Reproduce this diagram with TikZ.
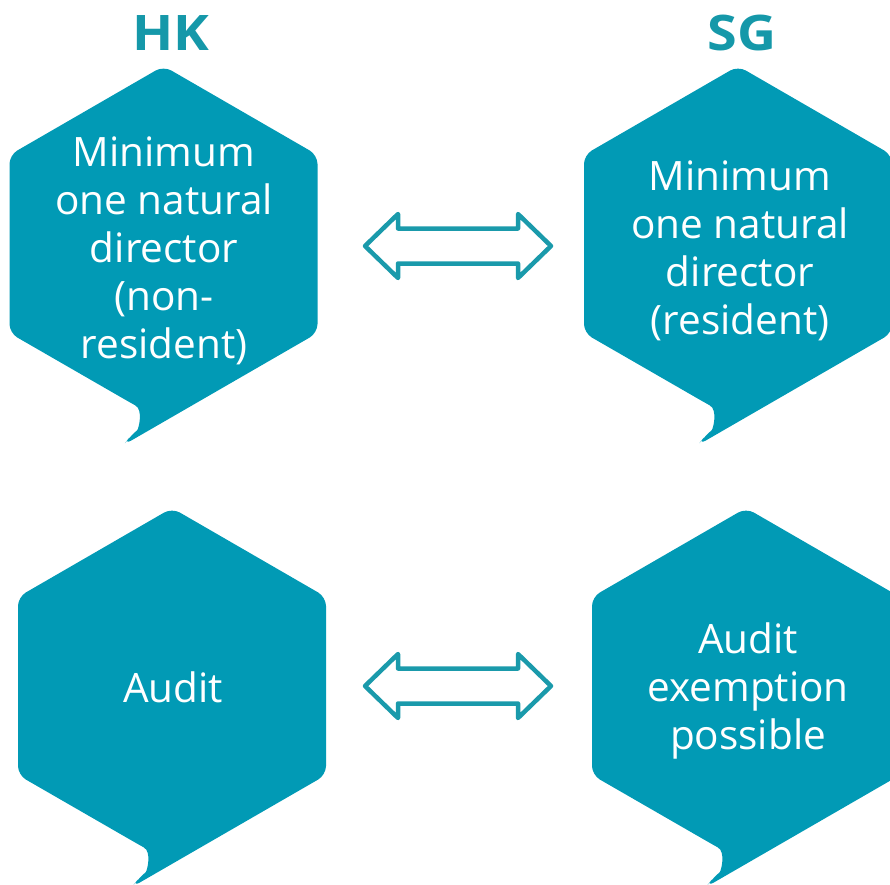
\documentclass[tikz,border=0pt]{standalone}
\usepackage{fontspec}
\setmainfont{Open Sans}
\newfontfamily\headfont[FakeStretch=1.1]{Open Sans}
\usetikzlibrary{calc}
\definecolor{hexfill}{HTML}{019AB5}
\definecolor{headc}{HTML}{1598A9}
\definecolor{arrc}{HTML}{1A9AAB}
\tikzset{
  bubble/.style={fill=hexfill, rounded corners=9pt},
  bubtext/.style={text=white, align=center, inner sep=0pt, font=\fontsize{40.5}{48}\selectfont},
  headtext/.style={text=headc, inner sep=0pt, font=\headfont\bfseries\fontsize{49}{49}\selectfont},
  dblarrow/.style={draw=arrc, line width=4.5pt, fill=white, line join=round},
}
\newcommand\mybubble[1]{%
  \begin{scope}[shift={(#1)}]
    \fill[bubble] (0,-178) -- (154,-89) -- (154,89) -- (-40,201) -- (-33,192)
      .. controls (-25,185) and (-20,166) .. (-36,157)
      -- (-154,89) -- (-154,-89) -- cycle;
  \end{scope}}
\newcommand\myarrow[1]{%
  \begin{scope}[shift={(#1)}]
    \draw[dblarrow] (-93,0) -- (-60,-32) -- (-60,-17.5) -- (60,-17.5) -- (60,-32)
      -- (93,0) -- (60,32) -- (60,17.5) -- (-60,17.5) -- (-60,32) -- cycle;
  \end{scope}}
\begin{document}
\begin{tikzpicture}[x=1pt,y=-1pt]
  \useasboundingbox (0,0) rectangle (890,884);
  \clip (0,0) rectangle (890,884);
  \coordinate (c1) at (163.5,244);
  \coordinate (c2) at (738,244);
  \coordinate (c3) at (172,686);
  \coordinate (c4) at (746,686);
  \coordinate (a1) at (458,246);
  \coordinate (a2) at (458,686);
  \mybubble{c1}
  \mybubble{c2}
  \mybubble{c3}
  \mybubble{c4}
  \myarrow{a1}
  \myarrow{a2}
  \node[headtext] (hk) at (171,33) {HK};
  \node[headtext] (sg) at (742,33) {SG};
  \node[bubtext] (t1) at (164,251) {Minimum\\one natural\\director\\(non-\\resident)};
  \node[bubtext] (t2) at (740,251) {Minimum\\one natural\\director\\(resident)};
  \node[bubtext] (t3) at (173,687) {Audit};
  \node[bubtext] (t4) at (748,691) {Audit\\exemption\\possible};
\end{tikzpicture}
\end{document}
